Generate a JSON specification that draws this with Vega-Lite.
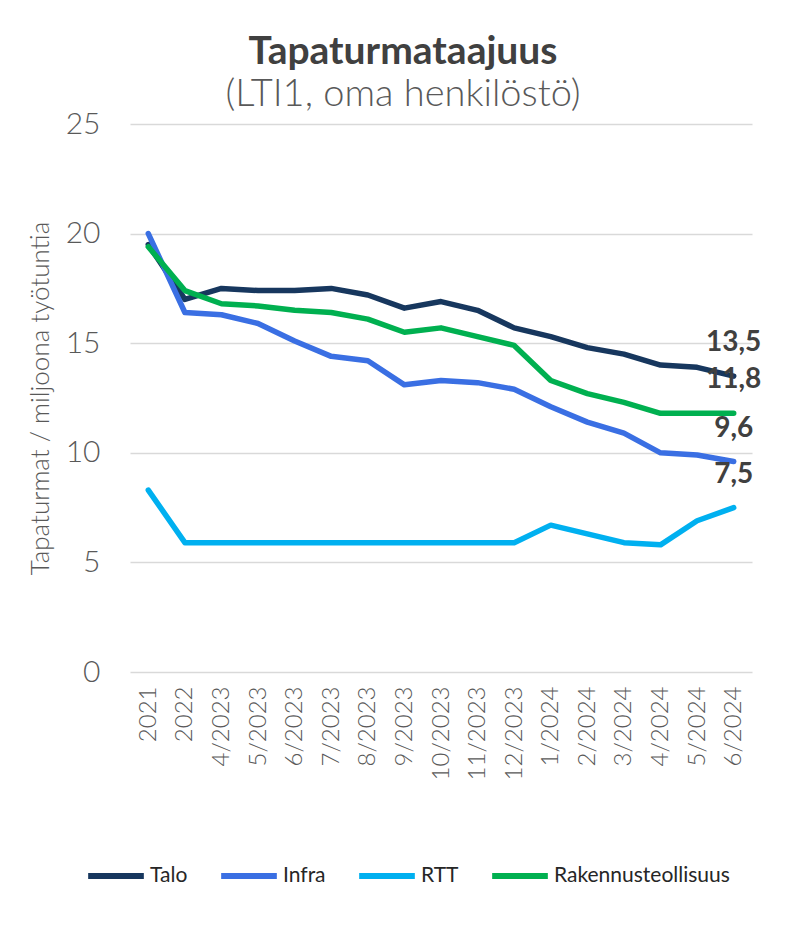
{
  "$schema": "https://vega.github.io/schema/vega-lite/v6.json",
  "autosize": {"type": "none"},
  "width": 622,
  "height": 548,
  "padding": {"left": 130, "top": 124, "right": 38, "bottom": 268},
  "background": "white",
  "config": {
    "font": "Lato",
    "view": {"stroke": null},
    "locale": {"number": {"decimal": ",", "thousands": " ", "grouping": [3], "currency": ["", " €"]}}
  },
  "title": {
    "text": "Tapaturmataajuus",
    "subtitle": "(LTI1, oma henkilöstö)",
    "anchor": "middle",
    "dx": -38,
    "fontSize": 39,
    "fontWeight": "bold",
    "color": "#404040",
    "subtitleFontSize": 38,
    "subtitleFontWeight": 300,
    "subtitleColor": "#595959",
    "subtitlePadding": 4,
    "offset": -5
  },
  "data": {
    "values": [
      {"period": "2021", "series": "Talo", "value": 19.5},
      {"period": "2022", "series": "Talo", "value": 17.0},
      {"period": "4/2023", "series": "Talo", "value": 17.5},
      {"period": "5/2023", "series": "Talo", "value": 17.4},
      {"period": "6/2023", "series": "Talo", "value": 17.4},
      {"period": "7/2023", "series": "Talo", "value": 17.5},
      {"period": "8/2023", "series": "Talo", "value": 17.2},
      {"period": "9/2023", "series": "Talo", "value": 16.6},
      {"period": "10/2023", "series": "Talo", "value": 16.9},
      {"period": "11/2023", "series": "Talo", "value": 16.5},
      {"period": "12/2023", "series": "Talo", "value": 15.7},
      {"period": "1/2024", "series": "Talo", "value": 15.3},
      {"period": "2/2024", "series": "Talo", "value": 14.8},
      {"period": "3/2024", "series": "Talo", "value": 14.5},
      {"period": "4/2024", "series": "Talo", "value": 14.0},
      {"period": "5/2024", "series": "Talo", "value": 13.9},
      {"period": "6/2024", "series": "Talo", "value": 13.5},
      {"period": "2021", "series": "Infra", "value": 20.0},
      {"period": "2022", "series": "Infra", "value": 16.4},
      {"period": "4/2023", "series": "Infra", "value": 16.3},
      {"period": "5/2023", "series": "Infra", "value": 15.9},
      {"period": "6/2023", "series": "Infra", "value": 15.1},
      {"period": "7/2023", "series": "Infra", "value": 14.4},
      {"period": "8/2023", "series": "Infra", "value": 14.2},
      {"period": "9/2023", "series": "Infra", "value": 13.1},
      {"period": "10/2023", "series": "Infra", "value": 13.3},
      {"period": "11/2023", "series": "Infra", "value": 13.2},
      {"period": "12/2023", "series": "Infra", "value": 12.9},
      {"period": "1/2024", "series": "Infra", "value": 12.1},
      {"period": "2/2024", "series": "Infra", "value": 11.4},
      {"period": "3/2024", "series": "Infra", "value": 10.9},
      {"period": "4/2024", "series": "Infra", "value": 10.0},
      {"period": "5/2024", "series": "Infra", "value": 9.9},
      {"period": "6/2024", "series": "Infra", "value": 9.6},
      {"period": "2021", "series": "RTT", "value": 8.3},
      {"period": "2022", "series": "RTT", "value": 5.9},
      {"period": "4/2023", "series": "RTT", "value": 5.9},
      {"period": "5/2023", "series": "RTT", "value": 5.9},
      {"period": "6/2023", "series": "RTT", "value": 5.9},
      {"period": "7/2023", "series": "RTT", "value": 5.9},
      {"period": "8/2023", "series": "RTT", "value": 5.9},
      {"period": "9/2023", "series": "RTT", "value": 5.9},
      {"period": "10/2023", "series": "RTT", "value": 5.9},
      {"period": "11/2023", "series": "RTT", "value": 5.9},
      {"period": "12/2023", "series": "RTT", "value": 5.9},
      {"period": "1/2024", "series": "RTT", "value": 6.7},
      {"period": "2/2024", "series": "RTT", "value": 6.3},
      {"period": "3/2024", "series": "RTT", "value": 5.9},
      {"period": "4/2024", "series": "RTT", "value": 5.8},
      {"period": "5/2024", "series": "RTT", "value": 6.9},
      {"period": "6/2024", "series": "RTT", "value": 7.5},
      {"period": "2021", "series": "Rakennusteollisuus", "value": 19.4},
      {"period": "2022", "series": "Rakennusteollisuus", "value": 17.4},
      {"period": "4/2023", "series": "Rakennusteollisuus", "value": 16.8},
      {"period": "5/2023", "series": "Rakennusteollisuus", "value": 16.7},
      {"period": "6/2023", "series": "Rakennusteollisuus", "value": 16.5},
      {"period": "7/2023", "series": "Rakennusteollisuus", "value": 16.4},
      {"period": "8/2023", "series": "Rakennusteollisuus", "value": 16.1},
      {"period": "9/2023", "series": "Rakennusteollisuus", "value": 15.5},
      {"period": "10/2023", "series": "Rakennusteollisuus", "value": 15.7},
      {"period": "11/2023", "series": "Rakennusteollisuus", "value": 15.3},
      {"period": "12/2023", "series": "Rakennusteollisuus", "value": 14.9},
      {"period": "1/2024", "series": "Rakennusteollisuus", "value": 13.3},
      {"period": "2/2024", "series": "Rakennusteollisuus", "value": 12.7},
      {"period": "3/2024", "series": "Rakennusteollisuus", "value": 12.3},
      {"period": "4/2024", "series": "Rakennusteollisuus", "value": 11.8},
      {"period": "5/2024", "series": "Rakennusteollisuus", "value": 11.8},
      {"period": "6/2024", "series": "Rakennusteollisuus", "value": 11.8}
    ]
  },
  "encoding": {
    "x": {
      "field": "period",
      "type": "ordinal",
      "sort": null,
      "scale": {"type": "point", "padding": 0.5},
      "axis": {
        "title": null,
        "labelAngle": -90,
        "labelFontSize": 24,
        "labelFont": "Lato",
        "labelFontWeight": 300,
        "labelColor": "#595959",
        "labelPadding": 14,
        "ticks": false,
        "domain": false,
        "grid": false
      }
    },
    "y": {
      "field": "value",
      "type": "quantitative",
      "scale": {"domain": [0, 25], "nice": false},
      "axis": {
        "title": "Tapaturmat / miljoona työtuntia",
        "titleFontSize": 26,
        "titleFontWeight": 300,
        "titleColor": "#595959",
        "titlePadding": 12,
        "values": [0, 5, 10, 15, 20, 25],
        "labelFontSize": 30,
        "labelFontWeight": 300,
        "labelColor": "#595959",
        "labelPadding": 30,
        "ticks": false,
        "domain": false,
        "gridColor": "#d9d9d9",
        "gridWidth": 1.5
      }
    }
  },
  "layer": [
    {
      "mark": {"type": "line", "strokeWidth": 5.5, "strokeCap": "round", "strokeJoin": "round"},
      "encoding": {
        "color": {
          "field": "series",
          "type": "nominal",
          "sort": ["Talo", "Infra", "RTT", "Rakennusteollisuus"],
          "scale": {
            "domain": ["Talo", "Infra", "RTT", "Rakennusteollisuus"],
            "range": ["#17375e", "#3a6fe3", "#00b0f0", "#00b050"]
          },
          "legend": {
            "title": null,
            "orient": "none",
            "direction": "horizontal",
            "legendX": -45,
            "legendY": 721,
            "symbolType": "stroke",
            "symbolSize": 3100,
            "symbolStrokeWidth": 6,
            "labelFontSize": 21,
            "labelFont": "Lato",
            "labelLimit": 0,
            "labelColor": "#262626",
            "labelOffset": 3,
            "columnPadding": 21
          }
        }
      }
    },
    {
      "transform": [{"filter": "datum.period === '6/2024'"}],
      "mark": {"type": "text", "dy": -33, "fontSize": 28, "fontWeight": "bold", "color": "#404040", "font": "Lato"},
      "encoding": {
        "text": {"field": "value", "type": "quantitative", "format": ".1f"}
      }
    }
  ]
}
